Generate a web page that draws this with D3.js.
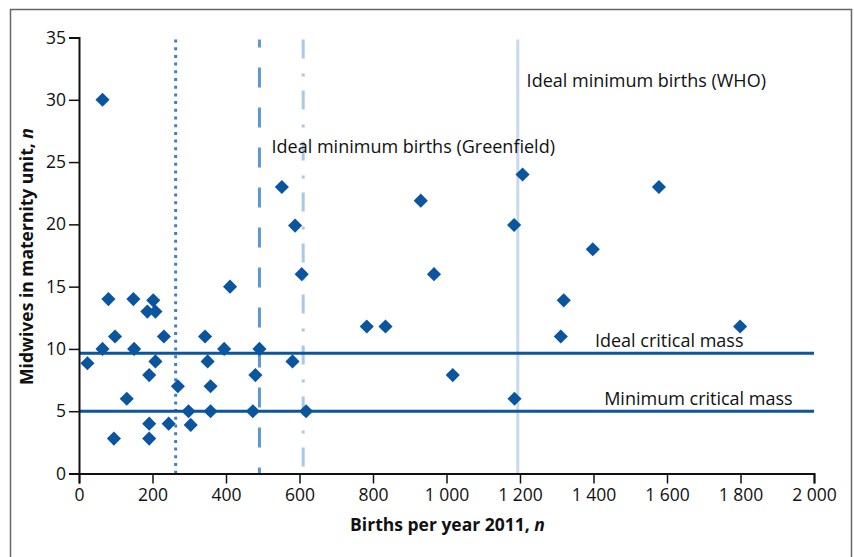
<!DOCTYPE html>
<html>
<head>
<meta charset="utf-8">
<script src="https://cdn.jsdelivr.net/npm/d3@7"></script>
<style>
  body { margin: 0; background: #fff; }
  svg { display: block; font-family: "Open Sans", "Noto Sans", sans-serif; }
</style>
</head>
<body>
<div id="chart"></div>
<script>
// births per year 2011 (x) and midwives in unit (y)
var births = [23, 64, 80, 98, 95, 130, 148, 150, 186, 191, 191, 191, 202, 208, 208, 231, 244, 269,
  298, 304, 343, 350, 358, 358, 395, 411, 473, 480, 491, 581, 606, 64, 552, 588, 618, 783, 834,
  966, 1017, 1185, 1311, 1319, 930, 1184, 1207, 1578, 1398, 1799];
var midwives = [8.85, 10, 14, 11, 2.8, 6, 14, 10, 13, 7.9, 4, 2.8, 13.9, 13, 9, 11, 4, 7,
  5, 3.9, 11, 9, 7, 5, 10, 15, 5, 7.9, 10, 9, 16, 30, 23, 19.9, 5, 11.8, 11.8,
  16, 7.9, 6, 11, 13.9, 21.9, 19.95, 24, 23, 18, 11.8];

var xTicks = [0, 200, 400, 600, 800, 1000, 1200, 1400, 1600, 1800, 2000];
var yTicks = [0, 5, 10, 15, 20, 25, 30, 35];

// reference lines
var vLineValues = [263, 491, 610, 1194];
var vLineStyles = ["dotted", "dashed", "dashdot", "solid"];
var hLineValues = [9.65, 5];
var hLineLabels = ["Ideal critical mass", "Minimum critical mass"];
var vLabels = ["Ideal minimum births (Greenfield)", "Ideal minimum births (WHO)"];
var vLabelAt = [[524, 25.7], [1218, 31.05]];
var hLabelAt = [1404, 1429];

var fullWidth = 854, fullHeight = 557;
var margins = {left: 79, top: 37.5, right: 40, bottom: 83.5};
var width = fullWidth - margins.left - margins.right;
var height = fullHeight - margins.top - margins.bottom;

var canvas = d3.select("#chart").append("svg")
    .attr("width", fullWidth)
    .attr("height", fullHeight);

// outer frame
canvas.append("path")
    .attr("d", "M10.5,570 L10.5,9.5 L851.5,9.5 L851.5,570")
    .attr("fill", "none")
    .attr("stroke", "#666")
    .attr("stroke-width", 1.5);

var svg = canvas.append("g")
    .attr("transform", "translate(" + margins.left + "," + margins.top + ")");

var xScale = d3.scaleLinear().domain([0, 2000]).range([0, width]);
var yScale = d3.scaleLinear().domain([0, 35]).range([height, 0]);

var fmt = function(d) { return d3.format(",")(d).replace(",", " "); };

// vertical reference lines
var dashFor = {dotted: "3,4.7", dashed: "20,20", dashdot: "19,15,3,14", solid: null};
var colourFor = {dotted: "#3f80c2", dashed: "#6097cb", dashdot: "#aac7e4", solid: "#c9d8ec"};
vLineValues.forEach(function(v, i) {
    var style = vLineStyles[i];
    svg.append("line")
        .attr("x1", xScale(v)).attr("x2", xScale(v))
        .attr("y1", yScale(35) + 2).attr("y2", height)
        .attr("stroke", colourFor[style])
        .attr("stroke-width", 3)
        .attr("stroke-dasharray", dashFor[style])
        .attr("stroke-dashoffset", style == "dashed" ? 12 : 0);
});

// horizontal reference lines
hLineValues.forEach(function(v) {
    svg.append("line")
        .attr("x1", 0).attr("x2", width)
        .attr("y1", yScale(v)).attr("y2", yScale(v))
        .attr("stroke", "#0b559f")
        .attr("stroke-width", 3);
});

// axes
var xAxis = d3.axisBottom(xScale).tickValues(xTicks).tickFormat(fmt).tickSizeOuter(0).tickSize(10).tickPadding(5);
var yAxis = d3.axisLeft(yScale).tickValues(yTicks).tickSizeOuter(0).tickSize(10).tickPadding(3);

var xAxisContainer = svg.append("g")
    .attr("transform", "translate(0," + height + ")")
    .call(xAxis);
var yAxisContainer = svg.append("g").call(yAxis);

[xAxisContainer, yAxisContainer].forEach(function(ax) {
    ax.attr("font-family", null).attr("font-size", 17.5);
    ax.select(".domain").attr("stroke", "#111").attr("stroke-width", 2);
    ax.selectAll(".tick line").attr("stroke", "#111").attr("stroke-width", 1.5);
    ax.selectAll(".tick text").attr("fill", "#111");
});

// points
var diamond = d3.symbol().type(d3.symbolSquare).size(100);
svg.append("g").selectAll("path")
    .data(births.map(function(b, i) { return [b, midwives[i]]; }))
    .enter().append("path")
    .attr("d", diamond)
    .attr("fill", "#0b559f")
    .attr("transform", function(d) {
        return "translate(" + xScale(d[0]) + "," + yScale(d[1]) + ") rotate(45)";
    });

// labels
vLabels.forEach(function(t, i) {
    svg.append("text")
        .attr("x", xScale(vLabelAt[i][0]))
        .attr("y", yScale(vLabelAt[i][1]))
        .attr("font-size", 18)
        .attr("fill", "#111")
        .text(t);
});
hLineLabels.forEach(function(t, i) {
    svg.append("text")
        .attr("x", xScale(hLabelAt[i]))
        .attr("y", yScale(hLineValues[i]) - 6)
        .attr("font-size", 18)
        .attr("fill", "#111")
        .text(t);
});

// axis titles
var xt = svg.append("text")
    .attr("x", width / 2 + 1)
    .attr("y", height + 57)
    .attr("text-anchor", "middle")
    .attr("font-size", 17.5)
    .attr("font-weight", "bold")
    .attr("fill", "#111");
xt.append("tspan").text("Births per year 2011, ");
xt.append("tspan").attr("font-style", "italic").text("n");

var yt = svg.append("text")
    .attr("transform", "translate(-46," + (height / 2 + 1) + ") rotate(-90)")
    .attr("text-anchor", "middle")
    .attr("font-size", 17.5)
    .attr("font-weight", "bold")
    .attr("fill", "#111");
yt.append("tspan").text("Midwives in maternity unit, ");
yt.append("tspan").attr("font-style", "italic").text("n");
</script>
</body>
</html>
